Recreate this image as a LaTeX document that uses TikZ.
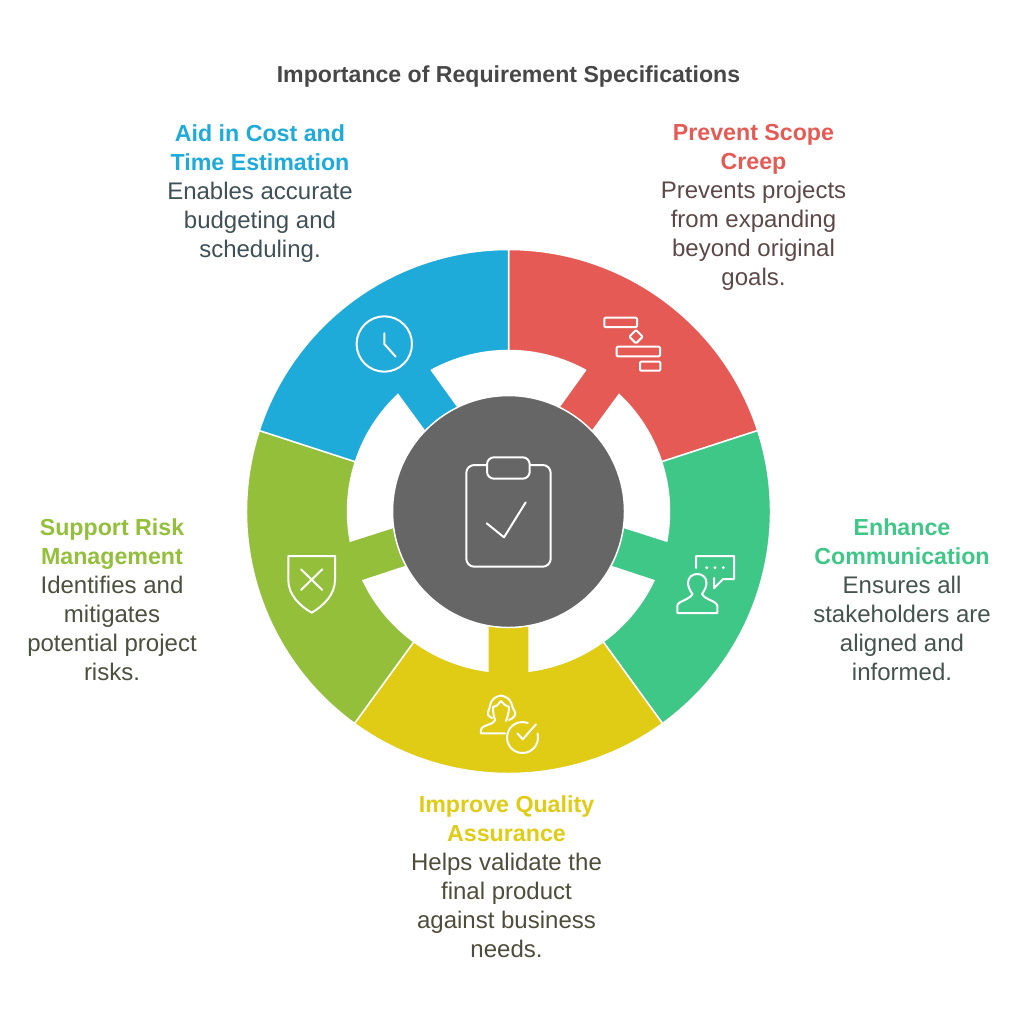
\documentclass[tikz,border=0pt]{standalone}
\usepackage{fontspec}
\setmainfont{Liberation Sans}
\usepackage{tikz}
\definecolor{redsec}{HTML}{E55A54}
\definecolor{greensec}{HTML}{3EC787}
\definecolor{yellowsec}{HTML}{E0CB15}
\definecolor{olivesec}{HTML}{93BF3A}
\definecolor{bluesec}{HTML}{1EABDA}
\definecolor{hubgray}{HTML}{666666}
\definecolor{redtext}{HTML}{5C4848}
\definecolor{greentext}{HTML}{45534D}
\definecolor{yellowtext}{HTML}{4E4C3A}
\definecolor{olivetext}{HTML}{4A4F3E}
\definecolor{bluetext}{HTML}{3F5056}
\newcommand{\hd}[2]{\textbf{\fontsize{23.2}{29}\selectfont\textcolor{#1}{#2}}}
\tikzset{
icon/.style={draw=white,line width=2pt,line join=round,line cap=round},
seclabel/.style={anchor=north,inner sep=0pt,align=center,font=\fontsize{24}{29}\selectfont},
}
\begin{document}
\begin{tikzpicture}[x=1pt,y=-1pt]
\useasboundingbox (0,0) rectangle (1024,1024);
\node[anchor=center,inner sep=0pt,font=\fontsize{23.1}{26}\selectfont\bfseries,text=black!72] (title) at (508.5,77) {Importance of Requirement Specifications};
% ring
\begin{scope}[shift={(508.5,511.5)}]
\foreach \a/\col in {-90/redsec,-18/greensec,54/yellowsec,126/olivesec,198/bluesec} {
\filldraw[fill=\col,draw=white,line width=1.5pt]
(\a:262) arc[start angle=\a,end angle=\a+72,radius=262]
-- (\a+72:161) arc[start angle=\a+72,end angle=\a+43.4,radius=161]
-- (\a+47.8:100) -- (\a+24.2:100) -- (\a+28.6:161)
arc[start angle=\a+28.6,end angle=\a,radius=161] -- cycle;
}
\filldraw[fill=hubgray,draw=white,line width=1.5pt] (0,0) circle[radius=116];
\end{scope}
% clipboard
\draw[icon,rounded corners=8pt] (466.3,465) rectangle (550.7,566.7);
\filldraw[icon,fill=hubgray,rounded corners=7pt] (487,457.3) rectangle (529.7,478.7);
\draw[icon] (486.7,523.3) -- (504,537.3) -- (525.7,502.3);
% clock
\draw[icon] (384.3,344) circle[radius=27.7];
\draw[icon] (384.3,333.3) -- (384.3,344) -- (395.7,356.7);
% gantt
\draw[icon,rounded corners=1pt] (604.3,317.7) rectangle (637,327);
\draw[icon,rounded corners=1pt] (636,330) -- (642.7,336.7) -- (636,343.4) -- (629.3,336.7) -- cycle;
\draw[icon,rounded corners=1pt] (616.7,346.7) rectangle (660,356.3);
\draw[icon,rounded corners=1pt] (640,361.7) rectangle (660.3,370.7);
% chat
\draw[icon] (696,568) -- (696,556) -- (734,556) -- (734,579) -- (723.3,579) -- (714,588.3) -- (714,578);
\foreach \x in {706.7,715,723.3} {
\fill[white] (\x,567.7) circle[radius=1.6];
}
\draw[icon] (677.3,613) -- (717.3,613) -- (717.3,606) .. controls (717.3,601) and (705,600) .. (702,594)
.. controls (705,590) and (706.5,586) .. (706.5,583) .. controls (706.5,577) and (702,574) .. (697.3,574)
.. controls (692.5,574) and (688,577) .. (688,583) .. controls (688,586) and (689.5,590) .. (692.5,594)
.. controls (689.5,600) and (677.3,601) .. (677.3,606) -- cycle;
% person and check
\draw[icon] (492,718) .. controls (488,716) and (487,714) .. (488,712) .. controls (491,708) and (488,698) .. (501,695.5)
.. controls (514,698) and (511,708) .. (515,712) .. controls (516,715) and (514,718) .. (509,720);
\draw[icon] (493,707) .. controls (497,706) and (499,704) .. (501,701) .. controls (503,704) and (506,706) .. (509,707)
.. controls (509,713) and (507,718) .. (506,721);
\draw[icon] (505,733.3) -- (481,733.3) .. controls (480,729) and (482,727) .. (486,725.5) .. controls (490,724) and (494,723) .. (495,720) .. controls (494,717) and (493,713) .. (493,707);
\draw[icon] (522.5,737.5) ++(-15:15.5) arc[start angle=-15,end angle=290,radius=15.5];
\draw[icon] (517.3,733.3) -- (522.7,739.3) -- (536,724.3);
% shield
\draw[icon] (288.3,556) -- (335,556) -- (335,580) .. controls (335,595) and (323,606) .. (311.7,612.7) .. controls (300,606) and (288.3,595) .. (288.3,580) -- cycle;
\draw[icon] (301,569.3) -- (322.3,590);
\draw[icon] (322.3,569.3) -- (301,590);
% labels
\node[seclabel,text=redtext] (creep) at (753.5,124.5) {\hd{redsec}{Prevent Scope}\\\hd{redsec}{Creep}\\Prevents projects\\from expanding\\beyond original\\goals.};
\node[seclabel,text=greentext] (comm) at (902,518.5) {\hd{greensec}{Enhance}\\\hd{greensec}{Communication}\\Ensures all\\stakeholders are\\aligned and\\informed.};
\node[seclabel,text=yellowtext] (quality) at (506.5,795.5) {\hd{yellowsec}{Improve Quality}\\\hd{yellowsec}{Assurance}\\Helps validate the\\final product\\against business\\needs.};
\node[seclabel,text=olivetext] (risk) at (112,518.5) {\hd{olivesec}{Support Risk}\\\hd{olivesec}{Management}\\Identifies and\\mitigates\\potential project\\risks.};
\node[seclabel,text=bluetext] (cost) at (260,124.5) {\hd{bluesec}{Aid in Cost and}\\\hd{bluesec}{Time Estimation}\\Enables accurate\\budgeting and\\scheduling.};
\end{tikzpicture}
\end{document}
